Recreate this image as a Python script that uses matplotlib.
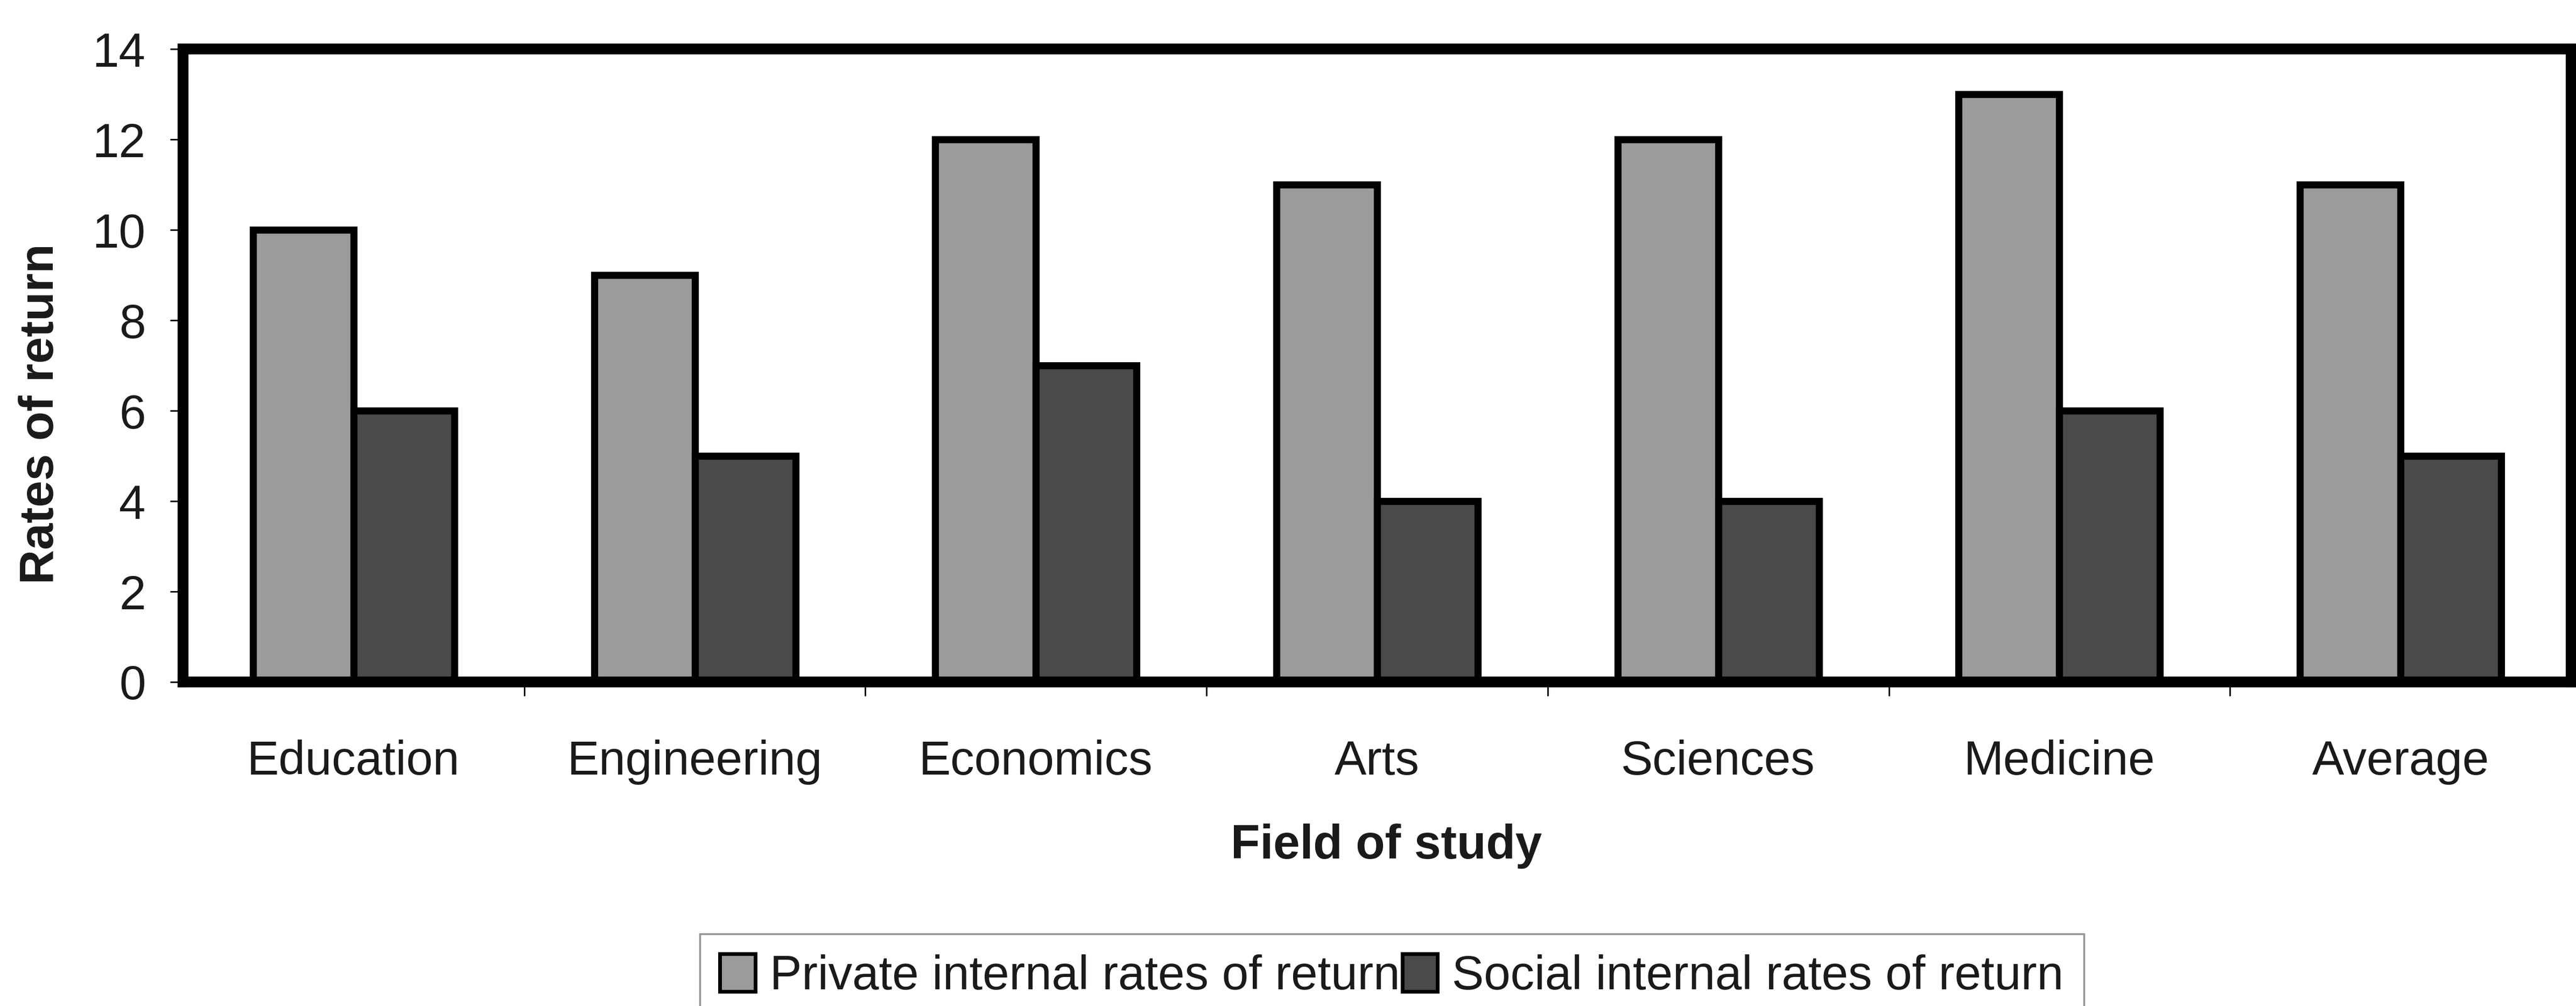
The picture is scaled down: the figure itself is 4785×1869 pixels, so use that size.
import numpy as np
import matplotlib.pyplot as plt
from matplotlib.patches import Patch

# ----- data -----
fields = ["Education", "Engineering", "Economics", "Arts",
          "Sciences", "Medicine", "Average"]
private_rates = [10, 9, 12, 11, 12, 13, 11]
social_rates = [6, 5, 7, 4, 4, 6, 5]

private_label = "Private internal rates of return"
social_label = "Social internal rates of return"

# ----- style -----
plt.rcParams["font.family"] = ["Liberation Sans", "DejaVu Sans"]
text_color = "#1a1a1a"
private_color = "#9b9b9b"
social_color = "#4a4a4a"
font_size = 64

W, H = 4785, 1869
fig = plt.figure(figsize=(W / 100, H / 100), dpi=100)
fig.patch.set_facecolor("white")

# plot area in pixel coords
left_px, right_px = 340, 4776
top_px, bottom_px = 91, 1267
ax = fig.add_axes([left_px / W, 1 - bottom_px / H,
                   (right_px - left_px) / W, (bottom_px - top_px) / H])

x = np.arange(len(fields))
bar_w = 0.295

ax.bar(x - bar_w / 2, private_rates, width=bar_w, color=private_color,
       edgecolor="black", linewidth=9.5, zorder=2)
ax.bar(x + bar_w / 2, social_rates, width=bar_w, color=social_color,
       edgecolor="black", linewidth=9.5, zorder=2)

ax.set_xlim(-0.5, len(fields) - 0.5)
ax.set_ylim(0, 14)

# frame
for side in ["left", "right", "top", "bottom"]:
    ax.spines[side].set_linewidth(14.5)
    ax.spines[side].set_color("black")
    ax.spines[side].set_zorder(3)

# y axis ticks
ax.set_yticks(np.arange(0, 15, 2))
ax.tick_params(axis="y", direction="out", length=17, width=2,
               pad=33, labelsize=font_size, labelcolor=text_color)

# category labels at centres, tick marks on the boundaries
ax.set_xticks(x)
ax.set_xticklabels(fields)
ax.tick_params(axis="x", which="major", length=0, pad=77,
               labelsize=font_size, labelcolor=text_color)
ax.set_xticks(np.arange(0.5, len(fields) - 0.5, 1), minor=True)
ax.tick_params(axis="x", which="minor", direction="out", length=19,
               width=2, color="black")

# axis titles
fig.text(76 / W, 1 - 769 / H, "Rates of return", rotation=90,
         ha="center", va="center", fontsize=font_size,
         fontweight="bold", color=text_color)
fig.text(2575 / W, 1 - 1595 / H, "Field of study", ha="center",
         va="baseline", fontsize=font_size, fontweight="bold",
         color=text_color)

# legend
handles = [
    Patch(facecolor=private_color, edgecolor="black", linewidth=5,
          label=private_label),
    Patch(facecolor=social_color, edgecolor="black", linewidth=5,
          label=social_label),
]
leg = fig.legend(handles=handles, loc="upper left",
                 bbox_to_anchor=(1300 / W, 1 - 1735 / H),
                 bbox_transform=fig.transFigure, ncol=2,
                 fontsize=font_size, frameon=True, fancybox=False,
                 borderaxespad=0, borderpad=0.42, handlelength=0.74,
                 handleheight=0.83, handletextpad=0.3,
                 columnspacing=0.05)
leg.get_frame().set_edgecolor("#7a7a7a")
leg.get_frame().set_linewidth(2.5)
for t in leg.get_texts():
    t.set_color(text_color)

fig.savefig("out.png", dpi=100)
